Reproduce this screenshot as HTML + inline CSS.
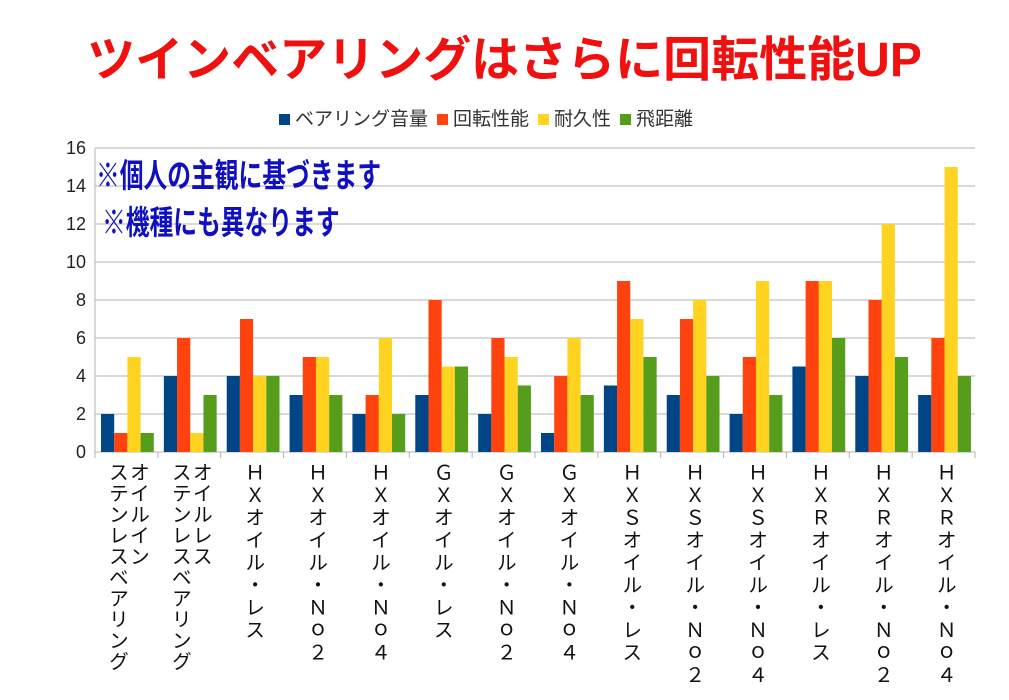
<!DOCTYPE html>
<html><head><meta charset="utf-8"><style>
body{margin:0;width:1009px;height:700px;background:#fff;position:relative;overflow:hidden;font-family:"Liberation Sans","Noto Sans CJK JP",sans-serif}
.t{position:absolute;left:0;width:1009px;top:34px;text-align:center;color:#f01010;font-size:48px;font-weight:bold;line-height:54px}
.lg{position:absolute;top:104px;left:270px;font-size:19px;color:#333;white-space:nowrap}
.lg span.b{display:inline-block;width:11px;height:11px;margin:0 5px 0 9px}
.an{position:absolute;color:#1010c0;font-weight:bold;font-size:33px;transform-origin:0 0;transform:scaleX(0.72);white-space:nowrap;line-height:38px}
.xl{position:absolute;top:462px;writing-mode:vertical-rl;font-size:20px;line-height:21px;color:#111;letter-spacing:2.5px}
</style></head><body>
<div class="t">ツインベアリングはさらに回転性能UP</div>
<div class="lg"><span class="b" style="background:#004586"></span>ベアリング音量<span class="b" style="background:#ff420e"></span>回転性能<span class="b" style="background:#ffd320"></span>耐久性<span class="b" style="background:#579d1c"></span>飛距離</div>
<svg width="1009" height="700" style="position:absolute;left:0;top:0" id="s"></svg>
<div class="an" style="left:96px;top:157px">※個人の主観に基づきます</div>
<div class="an" style="left:102px;top:204px">※機種にも異なります</div>
<div id="xl"></div>
<script>
var d=[[2,1,5,1],[4,6,1,3],[4,7,4,4],[3,5,5,3],[2,3,6,2],[3,8,4.5,4.5],[2,6,5,3.5],[1,4,6,3],[3.5,9,7,5],[3,7,8,4],[2,5,9,3],[4.5,9,9,6],[4,8,12,5],[3,6,15,4]];
var c=["#004586","#ff420e","#ffd320","#579d1c"];
var L=["オイルイン<br>ステンレスベアリング","オイルレス<br>ステンレスベアリング","ＨＸオイル・レス","ＨＸオイル・Ｎｏ２","ＨＸオイル・Ｎｏ４","ＧＸオイル・レス","ＧＸオイル・Ｎｏ２","ＧＸオイル・Ｎｏ４","ＨＸＳオイル・レス","ＨＸＳオイル・Ｎｏ２","ＨＸＳオイル・Ｎｏ４","ＨＸＲオイル・レス","ＨＸＲオイル・Ｎｏ２","ＨＸＲオイル・Ｎｏ４"];
var x0=95,x1=975,y0=452,u=19,w=(x1-x0)/14,s="";
for(var i=0;i<=8;i++){var y=y0-i*2*u;s+='<line x1="'+x0+'" x2="'+x1+'" y1="'+y+'" y2="'+y+'" stroke="#b3b3b3"/>';s+='<text x="86" y="'+(y+6)+'" text-anchor="end" font-size="18" fill="#222" font-family="Liberation Sans">'+(i*2)+'</text>';}
s+='<line x1="'+x0+'" x2="'+x0+'" y1="148" y2="'+(y0+6)+'" stroke="#b3b3b3"/>';
var h="";
for(var k=0;k<14;k++){var gx=x0+k*w;s+='<line x1="'+(gx+w)+'" x2="'+(gx+w)+'" y1="'+y0+'" y2="'+(y0+6)+'" stroke="#b3b3b3"/>';
for(var j=0;j<4;j++){var v=d[k][j];s+='<rect x="'+(gx+6+j*13.2)+'" y="'+(y0-v*u)+'" width="13.2" height="'+(v*u)+'" fill="'+c[j]+'"/>';}
var two=k<2;h+='<div class="xl" style="left:'+(gx+w/2-(two?21:10.5))+'px;'+(two?'letter-spacing:1px':'')+'">'+L[k]+'</div>';}
document.getElementById("s").innerHTML=s;document.getElementById("xl").innerHTML=h;
</script>
</body></html>
